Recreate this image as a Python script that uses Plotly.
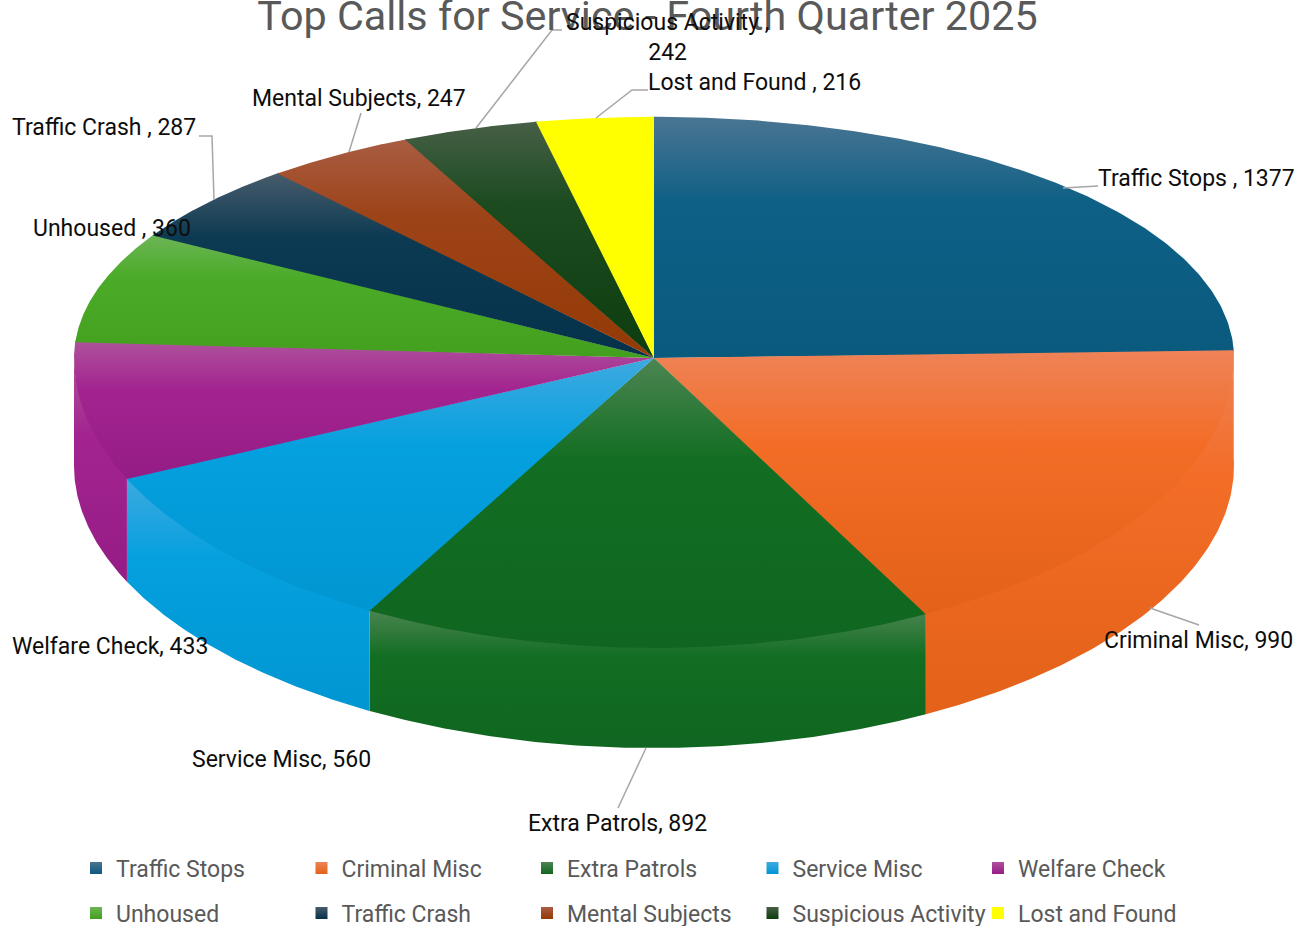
import numpy as np
import plotly.graph_objects as go

categories = ["Traffic Stops ", "Criminal Misc", "Extra Patrols", "Service Misc", "Welfare Check",
              "Unhoused ", "Traffic Crash ", "Mental Subjects", "Suspicious Activity ", "Lost and Found "]
values = [1377, 990, 892, 560, 433, 360, 287, 247, 242, 216]
top_colors = ["#4A7592", "#EE8358", "#4D8553", "#3EAAE0", "#AE529B", "#6CB556", "#485C6B", "#A95D43", "#475F47", "#FFFF00"]
mid_colors = ["#0F6086", "#F36D27", "#126E22", "#05A0DF", "#A32490", "#4BAB28", "#0C3A52", "#9D4318", "#1B4B1F", "#FFFF00"]
low_colors = ["#0A5A7E", "#E36118", "#106620", "#0096D2", "#951C85", "#43A01E", "#05324A", "#943A05", "#0D3D0F", "#FFFF00"]

FONT = "Roboto"
CX, CY, RX, RY_FRONT, RY_BACK, PERSP = 654, 358, 580, 290, 287, 0.19
total = sum(values)
edges = np.cumsum([0] + values) / total * 2 * np.pi


def rim(theta):
    u, v = np.sin(theta), -np.cos(theta)
    f = np.where(v < 0, 1 / (1 + PERSP * v**2), 1.0)
    x = CX + RX * u * f
    y = CY + np.where(v < 0, RY_BACK, RY_FRONT) * v * f
    return x, y


def wall_depth(theta):
    return 100 + 8 * (1 - np.abs(np.cos(theta))) ** 2


def scale(i):
    # the pixel-style y axis is reversed, so position 1 is the top of the shape
    return [[0, low_colors[i]], [0.65, mid_colors[i]], [1, top_colors[i]]]


fig = go.Figure()

# side walls of the disc (only the front half of the rim is visible);
# their upper edge runs slightly under the top faces so no seam shows
for i, name in enumerate(categories):
    a = max(edges[i], np.pi / 2 - 0.03)
    b = min(edges[i + 1], 3 * np.pi / 2)
    if b <= a:
        continue
    t = np.linspace(a, b, 120)
    x, y = rim(t)
    fig.add_trace(go.Scatter(
        x=np.r_[x, x[::-1]], y=np.r_[y - 3, (y + wall_depth(t))[::-1]],
        mode="lines", line=dict(width=0), fill="toself", hoverinfo="skip", showlegend=False,
        fillgradient=dict(type="vertical", colorscale=scale(i)),
    ))

# top faces; each one runs slightly under the next so no seam shows
for i, name in enumerate(categories):
    overlap = 0.004 if i < len(categories) - 1 else 0
    t = np.linspace(edges[i], edges[i + 1] + overlap, 160)
    x, y = rim(t)
    fig.add_trace(go.Scatter(
        x=np.r_[CX, x, CX], y=np.r_[CY, y, CY],
        mode="lines", line=dict(width=0), fill="toself", name=name.strip(), hoveron="fills",
        showlegend=False,
        fillgradient=dict(type="vertical", colorscale=scale(i)),
    ))

# leader lines
leader_x = [1063, 1098, None, 1150, 1199, None, 646, 618, None, 199, 212, 214, None,
            361, 349, None, 476, 552, 562, None, 596, 632, 648]
leader_y = [188, 186, None, 608, 625, None, 748, 808, None, 136, 136, 200, None,
            113, 152, None, 128, 30, 30, None, 118, 90, 90]
fig.add_trace(go.Scatter(x=leader_x, y=leader_y, mode="lines", hoverinfo="skip", showlegend=False,
                         line=dict(color="#A6A6A6", width=1.5)))

# legend entries, one legend per row
for i, name in enumerate(categories):
    fig.add_trace(go.Scatter(
        x=[None], y=[None], mode="markers", name=name.strip(),
        legend="legend" if i < 5 else "legend2",
        marker=dict(symbol="square", size=14, color=top_colors[i],
                    gradient=dict(type="vertical", color=low_colors[i])),
    ))

label_pos = [(1096, 178, "left"), (1102, 640, "left"), (526, 823, "left"), (190, 759, "left"),
             (10, 646, "left"), (31, 228, "left"), (10, 127, "left"), (250, 98, "left"),
             (667, 37, "center"), (646, 82, "left")]
for i, (name, val) in enumerate(zip(categories, values)):
    sep = "<br>" if i == 8 else " "
    text = f"{name.rstrip()} ,{sep}{val}" if name.endswith(" ") else f"{name}, {val}"
    lx, ly, al = label_pos[i]
    fig.add_annotation(x=lx, y=ly, text=text, showarrow=False, xanchor=al, yanchor="middle", align=al,
                       font=dict(family=FONT, size=23, color="#0D0D0D"))

legend_common = dict(orientation="h", xref="paper", yref="paper", xanchor="left", yanchor="middle",
                     entrywidth=180.5, entrywidthmode="pixels", itemsizing="constant", itemclick=False,
                     bgcolor="rgba(0,0,0,0)", font=dict(family=FONT, size=23, color="#595959"))
fig.update_layout(
    width=1312, height=926, margin=dict(l=0, r=0, t=0, b=0, autoexpand=False),
    paper_bgcolor="white", plot_bgcolor="white",
    title=dict(text="Top Calls for Service - Fourth Quarter 2025", x=647.5 / 1312, xanchor="center",
               y=1 - 16 / 926, yanchor="middle", font=dict(family=FONT, size=41.3, color="#595959")),
    xaxis=dict(range=[0, 1312], visible=False, fixedrange=True),
    yaxis=dict(range=[926, 0], visible=False, fixedrange=True),
    legend=dict(x=76 / 1312, y=1 - 868 / 926, **legend_common),
    legend2=dict(x=76 / 1312, y=1 - 913 / 926, **legend_common),
)
fig.write_html("out.html", config={"displayModeBar": False}, post_script="document.body.style.margin='0';")
